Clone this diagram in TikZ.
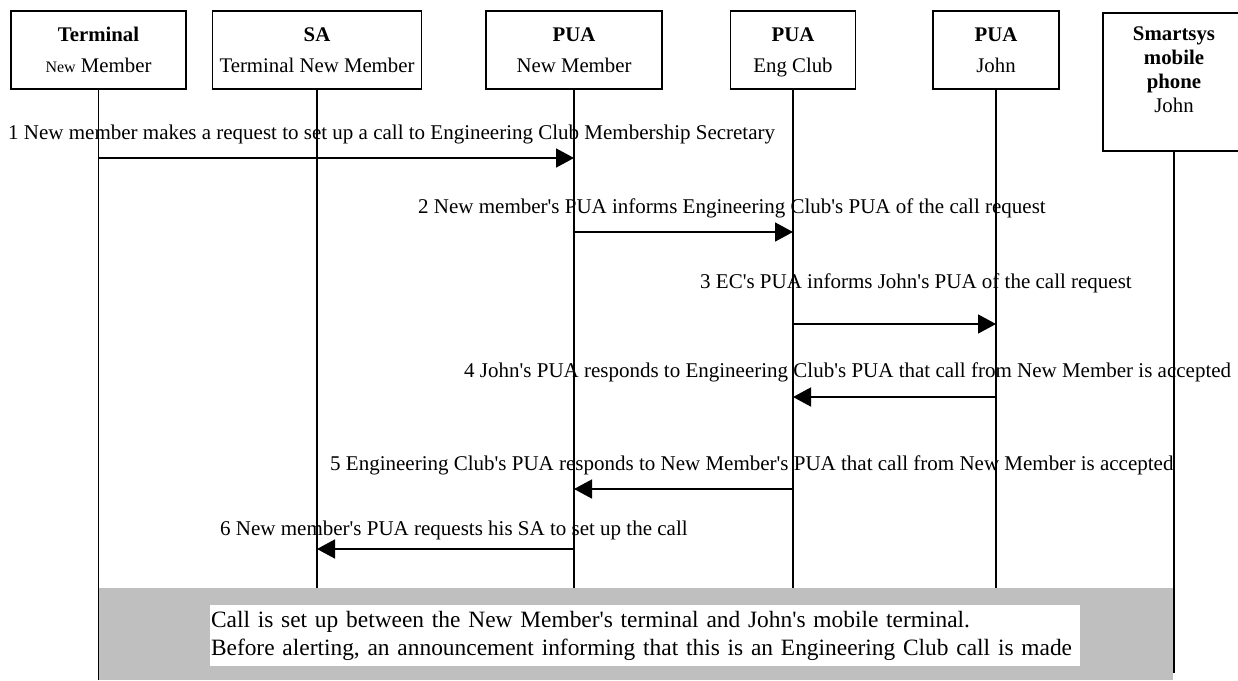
\documentclass[tikz,border=0pt]{standalone}
\usepackage{fontspec}
\setmainfont{Liberation Serif}[Ligatures=TeXOff]
\usetikzlibrary{arrows.meta}

\begin{document}
\begin{tikzpicture}[x=1pt, y=-1pt,
        actor/.style={rectangle, draw=black, line width=1.8pt, minimum height=78pt, align=center, inner sep=0pt, font=\fontsize{20.8}{31}\selectfont},
        life/.style={draw=black, line width=1.8pt},
        msg/.style={draw=black, line width=1.6pt, -{Triangle[length=18pt, width=19pt]}},
        note/.style={anchor=base west, inner sep=0pt, font=\fontsize{21}{25}\selectfont}
      ]
        \useasboundingbox (0,0) rectangle (1238,680);

        \node[actor, minimum width=175pt]  (term)    at (98.5,50)   {\textbf{Terminal}\\{\fontsize{16}{31}\selectfont New} Member};
        \node[actor, minimum width=209pt]  (sa)      at (317,50)    {\textbf{SA}\\Terminal New Member};
        \node[actor, minimum width=176pt]  (puanm)   at (574,50)    {\textbf{PUA}\\New Member};
        \node[actor, minimum width=125pt]  (puaec)   at (793,50)    {\textbf{PUA}\\\smash{Eng Club}};
        \node[actor, minimum width=126pt]  (puajohn) at (996,50)    {\textbf{PUA}\\John};
        \node[actor, minimum width=142pt, minimum height=138pt,
              label={[anchor=north, align=center, yshift=-11pt, font=\fontsize{20.8}{24}\selectfont]north:{\textbf{Smartsys}\\\textbf{mobile}\\\textbf{phone}\\John}}]
                                           (phone)   at (1174,82)   {};

        \coordinate (r1) at (0,158);
        \coordinate (r2) at (0,232);
        \coordinate (r3) at (0,324);
        \coordinate (r4) at (0,397);
        \coordinate (r5) at (0,489);
        \coordinate (r6) at (0,549);
        \coordinate (bot) at (0,680);
        \coordinate (botphone) at (0,673);

        \draw[life] (term.south)    -- (term |- bot);
        \draw[life] (sa.south)      -- (sa |- bot);
        \draw[life] (puanm.south)   -- (puanm |- bot);
        \draw[life] (puaec.south)   -- (puaec |- bot);
        \draw[life] (puajohn.south) -- (puajohn |- bot);
        \draw[life] (phone.south)   -- (phone |- botphone);

        \node[note] (t1) at (8,139)   {1 New member makes a request to set up a call to Engineering Club Membership Secretary};
        \node[note] (t2) at (418,213) {2 New member's PUA informs Engineering Club's PUA of the call request};
        \node[note] (t3) at (700,288) {3 EC's PUA informs John's PUA of the call request};
        \node[note] (t4) at (464,377) {4 John's PUA responds to Engineering Club's PUA that call from New Member is accepted};
        \node[note] (t5) at (330,470) {5 Engineering Club's PUA responds to New Member's PUA that call from New Member is accepted};
        \node[note] (t6) at (220,535) {6 New member's PUA requests his SA to set up the call};

        \draw[msg] (term |- r1)    -- (puanm |- r1);
        \draw[msg] (puanm |- r2)   -- (puaec |- r2);
        \draw[msg] (puaec |- r3)   -- (puajohn |- r3);
        \draw[msg] (puajohn |- r4) -- (puaec |- r4);
        \draw[msg] (puaec |- r5)   -- (puanm |- r5);
        \draw[msg] (puanm |- r6)   -- (sa |- r6);

        \fill[black!25] (98.5,588) rectangle (1173,680);
        \node[fill=white, align=left, text width=868pt, minimum height=61pt, inner xsep=1pt, inner ysep=0pt, font=\fontsize{23.4}{28}\selectfont]
              (setup) at (645,635.5) {Call is set up between the New Member's terminal and John's mobile terminal.\\Before alerting, an announcement informing that this is an Engineering Club call is made};
      \end{tikzpicture}
\end{document}
